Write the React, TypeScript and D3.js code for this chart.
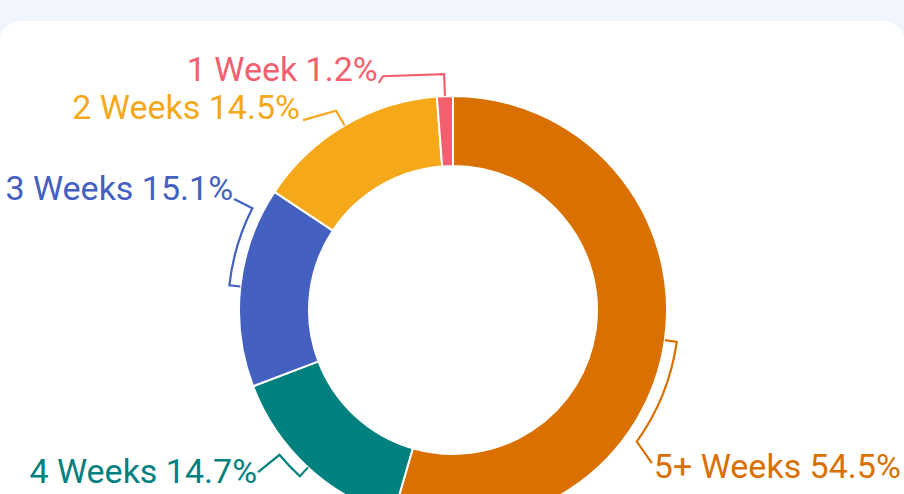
import React from "react";
import * as d3 from "d3";

const categories = ["5+ Weeks", "4 Weeks", "3 Weeks", "2 Weeks", "1 Week"];
const values = [54.5, 14.7, 15.1, 14.5, 1.2];
const colors = ["#D97000", "#00807E", "#4460C1", "#F6A81B", "#F2606F"];

// leader line layout: polar points relative to slice mid angle (deg offset, radius)
type LP = { da: number; r: number; arc?: boolean };
const leaderLayout: LP[][] = [
  [{ da: 0, r: 214 }, { da: 0, r: 226 }, { da: 27.5, r: 226, arc: true }, { da: 29.5, r: 251 }],
  [{ da: 0, r: 214 }, { da: 0, r: 226 }, { da: 7.5, r: 226, arc: true }, { da: 7.6, r: 253.5 }],
  [{ da: 0, r: 214 }, { da: 0, r: 225 }, { da: 20.6, r: 225, arc: true }, { da: 20.6, r: 245.5 }],
  [{ da: 0, r: 214 }, { da: 0, r: 231 }, { da: -7.9, r: 242 }],
  [{ da: 0, r: 214 }, { da: 0, r: 236 }, { da: -14.5, r: 244 }, { da: -15.95, r: 239 }],
];
const textLayout = [
  { dx: 2, dy: 15, anchor: "start" },
  { dx: -1, dy: 11, anchor: "end" },
  { dx: -1, dy: 1, anchor: "end" },
  { dx: -3, dy: -1, anchor: "end" },
  { dx: -1, dy: -2, anchor: "end" },
];

const W = 904;
const H = 494;
const cx = 453;
const cy = 310;
const outerR = 214;
const innerR = 144;

export default function App() {
  const pie = d3.pie<number>().sort(null).value((d) => d).startAngle(0).endAngle(2 * Math.PI);
  const arcs = pie(values);
  const arcGen = d3.arc<d3.PieArcDatum<number>>().innerRadius(innerR).outerRadius(outerR);

  const pt = (theta: number, r: number) => [cx + r * Math.sin(theta), cy - r * Math.cos(theta)];

  return (
    <div style={{ position: "fixed", left: 0, top: 0, width: W, height: H }}>
      <svg width={W} height={H} style={{ display: "block" }}>
        <rect x={0} y={0} width={W} height={H} fill="#F0F5FE" />
        <rect x={0} y={21} width={W} height={H + 40} rx={20} ry={20} fill="#FFFFFF" />
        <g transform={`translate(${cx},${cy})`}>
          {arcs.map((a, i) => (
            <path key={i} d={arcGen(a) || ""} fill={colors[i]} stroke="#FFFFFF" strokeWidth={2} strokeLinejoin="round" />
          ))}
        </g>
        {arcs.map((a, i) => {
          const mid = (a.startAngle + a.endAngle) / 2;
          const pts = leaderLayout[i];
          let d = "";
          let last: number[] = [0, 0];
          pts.forEach((p, j) => {
            const th = mid + (p.da * Math.PI) / 180;
            const [x, y] = pt(th, p.r);
            if (j === 0) d += `M${x},${y}`;
            else if (p.arc) {
              const sweep = p.da - pts[j - 1].da > 0 ? 1 : 0;
              d += `A${p.r},${p.r} 0 0 ${sweep} ${x},${y}`;
            } else d += `L${x},${y}`;
            last = [x, y];
          });
          const t = textLayout[i];
          return (
            <g key={i}>
              <path d={d} fill="none" stroke={colors[i]} strokeWidth={2.2} strokeLinejoin="miter" />
              <text
                x={last[0] + t.dx}
                y={last[1] + t.dy}
                textAnchor={t.anchor as any}
                fill={colors[i]}
                fontFamily="Roboto, 'Noto Sans', sans-serif"
                fontSize={34}
              >
                {`${categories[i]} ${values[i].toFixed(1)}%`}
              </text>
            </g>
          );
        })}
      </svg>
    </div>
  );
}
